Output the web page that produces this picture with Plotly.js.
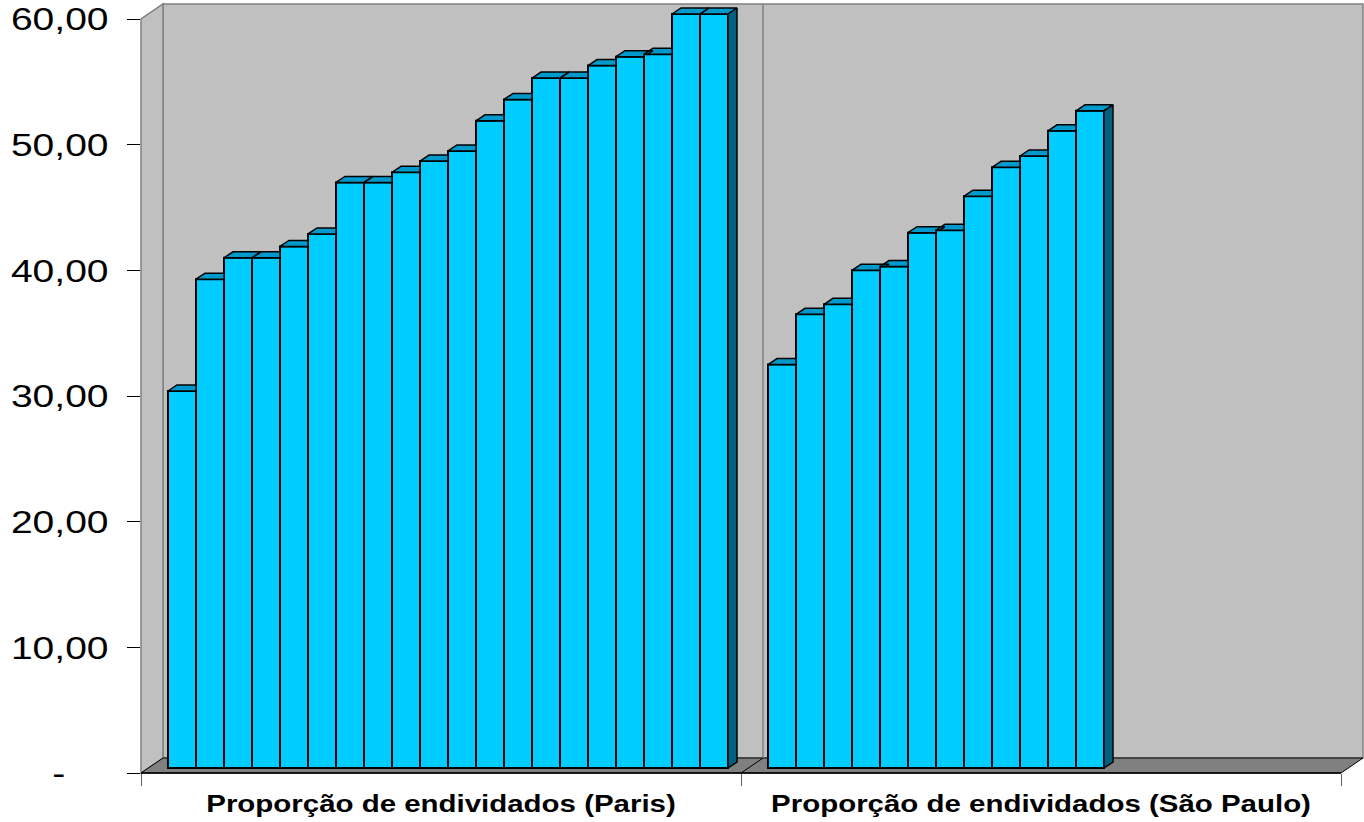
<!DOCTYPE html>
<html><head><meta charset="utf-8">
<script src="https://cdn.plot.ly/plotly-3.0.1.min.js"></script>
<style>html,body{margin:0;padding:0;background:#fff;} #chart{width:1364px;height:822px;}</style>
</head><body><div id="chart"></div>
<script>
// ---- data ----
const categories = ['Proporção de endividados (Paris)', 'Proporção de endividados (São Paulo)'];
const parisValues = [30.0, 38.9, 40.6, 40.6, 41.5, 42.5, 46.6, 46.6, 47.4, 48.3, 49.1, 51.5, 53.2, 54.9, 54.9, 55.9, 56.6, 56.8, 60.0, 60.0];
const saoPauloValues = [32.1, 36.1, 36.9, 39.6, 39.9, 42.6, 42.8, 45.5, 47.8, 48.7, 50.7, 52.3];
const yTickValues = [0, 10, 20, 30, 40, 50, 60];
const yTickLabels = ['-\u00a0\u00a0\u00a0\u00a0', '10,00', '20,00', '30,00', '40,00', '50,00', '60,00'];

// ---- layout constants (pixels) ----
const W = 1364, H = 822, L = 141, R = 0, T = 2, B = 49;
const plotW = W - L - R, plotH = H - T - B;
const pxPerY = 754 / 60;          // front-plane vertical scale
const catPx = 600, barPx = 28;    // category width, bar width
const wallDx = 22, wallDy = 15;   // depth of the box
const barShiftX = 7, barShiftY = 5;   // bars' front face depth
const barDepthX = 9, barDepthY = 6;   // bars' own depth
const slots = 20;

const G = catPx / barPx, gap = (G - slots) / 2;
const dxu = barDepthX / barPx, dyu = barDepthY / pxPerY;
const yTop = plotH / pxPerY;

// ---- faces of the bars ----
const groups = [parisValues, saoPauloValues];
const barTraces = [];
const topX = [], topY = [], sideX = [], sideY = [];
groups.forEach((vals, g) => {
  const xs = vals.map((v, i) => g * G + gap + i + 0.5);
  barTraces.push({
    type: 'bar', x: xs, y: vals, width: 1, xaxis: 'x2', yaxis: 'y2',
    marker: {color: '#00CCFF', line: {color: '#000', width: 2}},
    hoverinfo: 'y', name: categories[g], showlegend: false
  });
  vals.forEach((v, i) => {
    const x0 = xs[i] - 0.5, x1 = xs[i] + 0.5;
    const w = i + 1 < vals.length ? vals[i + 1] : -Infinity;
    const pts = [[x0, v], [x1, v]];
    if (w <= v) pts.push([x1 + dxu, v + dyu]);
    else if (w >= v + dyu) pts.push([x1, v + dyu]);
    else { const xw = x1 + dxu * (w - v) / dyu; pts.push([x1, w], [xw, w], [x1 + dxu, v + dyu]); }
    pts.push([x0 + dxu, v + dyu], [x0, v]);
    pts.forEach(p => { topX.push(p[0]); topY.push(p[1]); });
    topX.push(null); topY.push(null);
    if (w < v) {
      const b = Math.max(w, 0);
      const sp = [[x1, b], [x1, v], [x1 + dxu, v + dyu], [x1 + dxu, b + dyu], [x1, b]];
      sp.forEach(p => { sideX.push(p[0]); sideY.push(p[1]); });
      sideX.push(null); sideY.push(null);
    }
  });
});

const traces = [
  {type: 'scatter', x: categories, y: [0, 0], mode: 'markers', marker: {opacity: 0}, hoverinfo: 'skip', showlegend: false},
  ...barTraces,
  {type: 'scatter', x: topX, y: topY, xaxis: 'x2', yaxis: 'y2', mode: 'lines', fill: 'toself',
   fillcolor: '#0099CC', line: {color: '#000', width: 1.5}, hoverinfo: 'skip', showlegend: false},
  {type: 'scatter', x: sideX, y: sideY, xaxis: 'x2', yaxis: 'y2', mode: 'lines', fill: 'toself',
   fillcolor: '#006080', line: {color: '#000', width: 1.5}, hoverinfo: 'skip', showlegend: false}
];

// ---- box decoration (paper coordinates from pixels) ----
const px = x => (x - L) / plotW;
const py = y => (H - B - y) / plotH;
const fx0 = L, fy0 = H - B, fTop = fy0 - 60 * pxPerY, fx1 = L + 2 * catPx, fxm = L + catPx;
function path(pts) { return 'M' + pts.map(p => px(p[0]) + ',' + py(p[1])).join(' L') + ' Z'; }
function seg(a, b, color, width) {
  return {type: 'line', xref: 'paper', yref: 'paper', x0: px(a[0]), y0: py(a[1]), x1: px(b[0]), y1: py(b[1]),
          line: {color: color, width: width}, layer: 'below'};
}
const shapes = [
  {type: 'path', xref: 'paper', yref: 'paper', layer: 'below',
   path: path([[fx0 + wallDx, fy0 - wallDy], [fx1 + wallDx, fy0 - wallDy], [fx1 + wallDx, fTop - wallDy], [fx0 + wallDx, fTop - wallDy]]),
   fillcolor: '#C0C0C0', line: {color: '#808080', width: 1.5}},
  {type: 'path', xref: 'paper', yref: 'paper', layer: 'below',
   path: path([[fx0, fy0], [fx0, fTop], [fx0 + wallDx, fTop - wallDy], [fx0 + wallDx, fy0 - wallDy]]),
   fillcolor: '#C0C0C0', line: {color: '#808080', width: 1.5}},
  {type: 'path', xref: 'paper', yref: 'paper', layer: 'below',
   path: path([[fx0, fy0], [fx1, fy0], [fx1 + wallDx, fy0 - wallDy], [fx0 + wallDx, fy0 - wallDy]]),
   fillcolor: '#808080', line: {color: '#000', width: 1}},
  seg([fxm + wallDx, fy0 - wallDy], [fxm + wallDx, fTop - wallDy], '#808080', 1.5),
  seg([fxm, fy0], [fxm + wallDx, fy0 - wallDy], '#000', 1),
  seg([fx0, fy0], [fx1, fy0], '#000', 1.5)
];

const layout = {
  width: W, height: H,
  margin: {l: L, r: R, t: T, b: B},
  paper_bgcolor: '#fff', plot_bgcolor: 'rgba(0,0,0,0)',
  showlegend: false, barmode: 'overlay',
  xaxis: {type: 'category', categoryorder: 'array', categoryarray: categories,
          range: [-0.5, -0.5 + plotW / catPx], tickson: 'boundaries', ticks: 'outside',
          ticklen: 12, tickwidth: 1, tickcolor: '#606060', showgrid: false, zeroline: false, showline: false,
          tickfont: {family: 'Liberation Sans, Arial, sans-serif', size: 23, color: '#000', weight: 'bold'},
          ticklabelstandoff: 15, fixedrange: true},
  yaxis: {range: [0, yTop], tickvals: yTickValues, ticktext: yTickLabels, ticks: 'outside',
          ticklen: 13, tickwidth: 1, tickcolor: '#000', showgrid: false, zeroline: false, showline: false,
          tickfont: {family: 'Liberation Sans, Arial, sans-serif', size: 32, color: '#000'},
          ticklabelstandoff: 12, fixedrange: true},
  xaxis2: {overlaying: 'x', anchor: 'y2', visible: false,
           range: [-barShiftX / barPx, -barShiftX / barPx + plotW / barPx], fixedrange: true},
  yaxis2: {overlaying: 'y', anchor: 'x2', visible: false,
           range: [-barShiftY / pxPerY, -barShiftY / pxPerY + yTop], fixedrange: true},
  shapes: shapes
};

Plotly.newPlot('chart', traces, layout, {displayModeBar: false, staticPlot: true}).then(gd => {
  gd.querySelectorAll('.ytick text').forEach(t => {
    const w = t.getComputedTextLength();
    t.setAttribute('textLength', w * 1.22);
    t.setAttribute('lengthAdjust', 'spacingAndGlyphs');
  });
  gd.querySelectorAll('.xtick text').forEach(t => {
    const w = t.getComputedTextLength();
    t.setAttribute('textLength', w * 1.28);
    t.setAttribute('lengthAdjust', 'spacingAndGlyphs');
  });
});
</script>
</body></html>
